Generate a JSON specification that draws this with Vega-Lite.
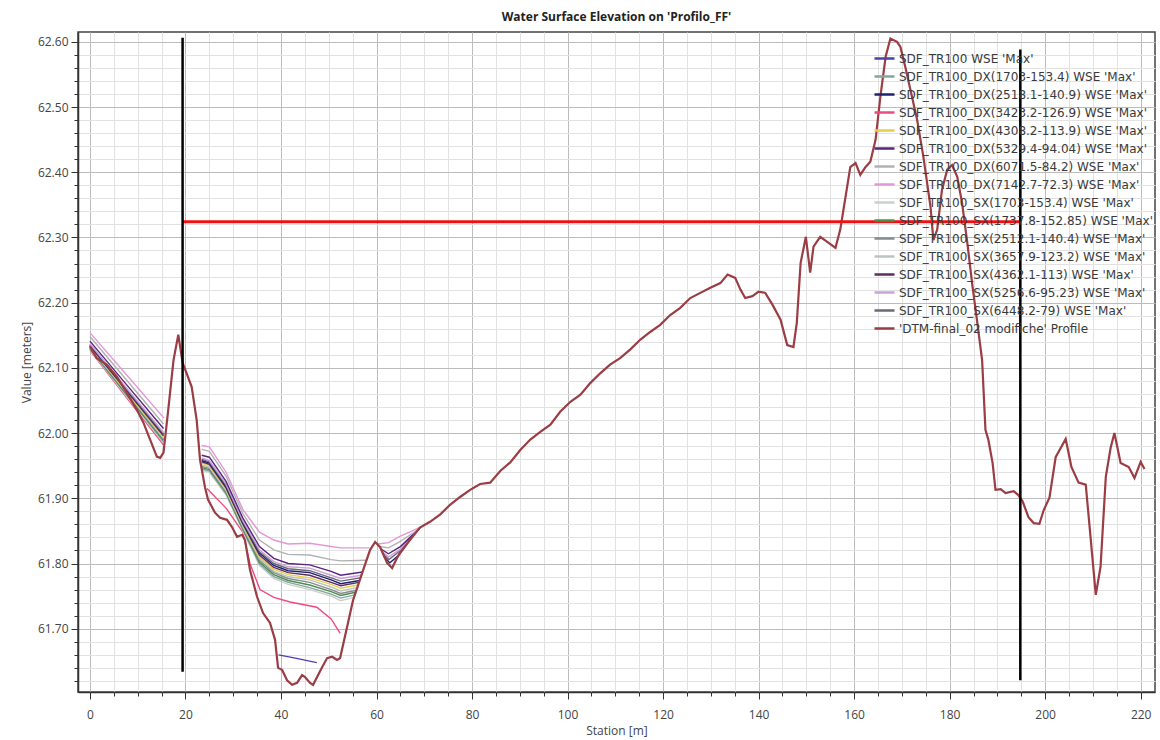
{
  "$schema": "https://vega.github.io/schema/vega-lite/v6.json",
  "width": 1077,
  "height": 660,
  "autosize": {"type": "none"},
  "padding": {"left": 78, "top": 32, "right": 5, "bottom": 48},
  "background": "white",
  "config": {
    "font": "Open Sans",
    "view": {"stroke": "#444", "strokeWidth": 1.5}
  },
  "title": {"text": "Water Surface Elevation on 'Profilo_FF'", "fontSize": 12, "fontWeight": "bold", "color": "#222", "offset": 8, "anchor": "middle"},
  "datasets": {
    "names": [
      {"k": "N0", "series": "SDF_TR100 WSE 'Max'"},
      {"k": "N1", "series": "SDF_TR100_DX(1703-153.4) WSE 'Max'"},
      {"k": "N2", "series": "SDF_TR100_DX(2518.1-140.9) WSE 'Max'"},
      {"k": "N3", "series": "SDF_TR100_DX(3423.2-126.9) WSE 'Max'"},
      {"k": "N4", "series": "SDF_TR100_DX(4308.2-113.9) WSE 'Max'"},
      {"k": "N5", "series": "SDF_TR100_DX(5329.4-94.04) WSE 'Max'"},
      {"k": "N6", "series": "SDF_TR100_DX(6071.5-84.2) WSE 'Max'"},
      {"k": "N7", "series": "SDF_TR100_DX(7142.7-72.3) WSE 'Max'"},
      {"k": "N8", "series": "SDF_TR100_SX(1703-153.4) WSE 'Max'"},
      {"k": "N9", "series": "SDF_TR100_SX(1737.8-152.85) WSE 'Max'"},
      {"k": "N10", "series": "SDF_TR100_SX(2512.1-140.4) WSE 'Max'"},
      {"k": "N11", "series": "SDF_TR100_SX(3657.9-123.2) WSE 'Max'"},
      {"k": "N12", "series": "SDF_TR100_SX(4362.1-113) WSE 'Max'"},
      {"k": "N13", "series": "SDF_TR100_SX(5256.6-95.23) WSE 'Max'"},
      {"k": "N14", "series": "SDF_TR100_SX(6448.2-79) WSE 'Max'"},
      {"k": "N15", "series": "'DTM-final_02 modifiche' Profile"}
    ],
    "wse": [
      {"k":"N3","g":"A","s":0,"v":62.127},{"k":"N3","g":"A","s":7.7,"v":62.054},{"k":"N3","g":"A","s":15.4,"v":61.982},
      {"k":"N8","g":"A","s":0,"v":62.128},{"k":"N8","g":"A","s":7.7,"v":62.056},{"k":"N8","g":"A","s":15.4,"v":61.985},
      {"k":"N1","g":"A","s":0,"v":62.129},{"k":"N1","g":"A","s":7.7,"v":62.058},{"k":"N1","g":"A","s":15.4,"v":61.987},
      {"k":"N9","g":"A","s":0,"v":62.130},{"k":"N9","g":"A","s":7.7,"v":62.059},{"k":"N9","g":"A","s":15.4,"v":61.989},
      {"k":"N10","g":"A","s":0,"v":62.131},{"k":"N10","g":"A","s":7.7,"v":62.061},{"k":"N10","g":"A","s":15.4,"v":61.991},
      {"k":"N11","g":"A","s":0,"v":62.132},{"k":"N11","g":"A","s":7.7,"v":62.062},{"k":"N11","g":"A","s":15.4,"v":61.992},
      {"k":"N4","g":"A","s":0,"v":62.133},{"k":"N4","g":"A","s":7.7,"v":62.063},{"k":"N4","g":"A","s":15.4,"v":61.994},
      {"k":"N12","g":"A","s":0,"v":62.134},{"k":"N12","g":"A","s":7.7,"v":62.065},{"k":"N12","g":"A","s":15.4,"v":61.996},
      {"k":"N2","g":"A","s":0,"v":62.135},{"k":"N2","g":"A","s":7.7,"v":62.066},{"k":"N2","g":"A","s":15.4,"v":61.998},
      {"k":"N14","g":"A","s":0,"v":62.136},{"k":"N14","g":"A","s":7.7,"v":62.067},{"k":"N14","g":"A","s":15.4,"v":61.999},
      {"k":"N13","g":"A","s":0,"v":62.137},{"k":"N13","g":"A","s":7.7,"v":62.069},{"k":"N13","g":"A","s":15.4,"v":62.001},
      {"k":"N5","g":"A","s":0,"v":62.141},{"k":"N5","g":"A","s":7.7,"v":62.074},{"k":"N5","g":"A","s":15.4,"v":62.007},
      {"k":"N6","g":"A","s":0,"v":62.148},{"k":"N6","g":"A","s":7.7,"v":62.081},{"k":"N6","g":"A","s":15.4,"v":62.014},
      {"k":"N7","g":"A","s":0,"v":62.154},{"k":"N7","g":"A","s":7.7,"v":62.089},{"k":"N7","g":"A","s":15.5,"v":62.023},

      {"k":"N0","g":"B","s":39.5,"v":61.660},{"k":"N0","g":"B","s":43.0,"v":61.655},{"k":"N0","g":"B","s":47.5,"v":61.648},

      {"k":"N3","g":"B","s":24.5,"v":61.915},{"k":"N3","g":"B","s":28.5,"v":61.885},{"k":"N3","g":"B","s":32.0,"v":61.848},{"k":"N3","g":"B","s":33.5,"v":61.800},{"k":"N3","g":"B","s":35.6,"v":61.760},{"k":"N3","g":"B","s":38.5,"v":61.748},{"k":"N3","g":"B","s":41.9,"v":61.741},{"k":"N3","g":"B","s":47.5,"v":61.733},{"k":"N3","g":"B","s":50.5,"v":61.715},{"k":"N3","g":"B","s":52.4,"v":61.693},

      {"k":"N8","g":"B","s":23.4,"v":61.943},{"k":"N8","g":"B","s":25.0,"v":61.940},{"k":"N8","g":"B","s":28.5,"v":61.905},{"k":"N8","g":"B","s":32.0,"v":61.850},{"k":"N8","g":"B","s":35.5,"v":61.797},{"k":"N8","g":"B","s":38.5,"v":61.777},{"k":"N8","g":"B","s":41.5,"v":61.768},{"k":"N8","g":"B","s":46.0,"v":61.760},{"k":"N8","g":"B","s":50.5,"v":61.750},{"k":"N8","g":"B","s":52.5,"v":61.743},{"k":"N8","g":"B","s":55.3,"v":61.748},
      {"k":"N1","g":"B","s":23.4,"v":61.945},{"k":"N1","g":"B","s":25.0,"v":61.942},{"k":"N1","g":"B","s":28.5,"v":61.907},{"k":"N1","g":"B","s":32.0,"v":61.852},{"k":"N1","g":"B","s":35.5,"v":61.799},{"k":"N1","g":"B","s":38.5,"v":61.780},{"k":"N1","g":"B","s":41.5,"v":61.771},{"k":"N1","g":"B","s":46.0,"v":61.763},{"k":"N1","g":"B","s":50.5,"v":61.753},{"k":"N1","g":"B","s":52.5,"v":61.747},{"k":"N1","g":"B","s":55.5,"v":61.752},
      {"k":"N9","g":"B","s":23.4,"v":61.947},{"k":"N9","g":"B","s":25.0,"v":61.944},{"k":"N9","g":"B","s":28.5,"v":61.909},{"k":"N9","g":"B","s":32.0,"v":61.853},{"k":"N9","g":"B","s":35.5,"v":61.802},{"k":"N9","g":"B","s":38.5,"v":61.783},{"k":"N9","g":"B","s":41.5,"v":61.774},{"k":"N9","g":"B","s":46.0,"v":61.767},{"k":"N9","g":"B","s":50.5,"v":61.757},{"k":"N9","g":"B","s":52.5,"v":61.751},{"k":"N9","g":"B","s":55.6,"v":61.756},
      {"k":"N10","g":"B","s":23.4,"v":61.949},{"k":"N10","g":"B","s":25.0,"v":61.946},{"k":"N10","g":"B","s":28.5,"v":61.911},{"k":"N10","g":"B","s":32.0,"v":61.855},{"k":"N10","g":"B","s":35.5,"v":61.805},{"k":"N10","g":"B","s":38.5,"v":61.786},{"k":"N10","g":"B","s":41.5,"v":61.777},{"k":"N10","g":"B","s":46.0,"v":61.771},{"k":"N10","g":"B","s":50.5,"v":61.760},{"k":"N10","g":"B","s":52.5,"v":61.754},{"k":"N10","g":"B","s":55.8,"v":61.759},
      {"k":"N11","g":"B","s":23.4,"v":61.951},{"k":"N11","g":"B","s":25.0,"v":61.948},{"k":"N11","g":"B","s":28.5,"v":61.912},{"k":"N11","g":"B","s":32.0,"v":61.857},{"k":"N11","g":"B","s":35.5,"v":61.808},{"k":"N11","g":"B","s":38.5,"v":61.788},{"k":"N11","g":"B","s":41.5,"v":61.780},{"k":"N11","g":"B","s":46.0,"v":61.775},{"k":"N11","g":"B","s":50.5,"v":61.764},{"k":"N11","g":"B","s":52.5,"v":61.758},{"k":"N11","g":"B","s":55.9,"v":61.763},
      {"k":"N4","g":"B","s":23.4,"v":61.954},{"k":"N4","g":"B","s":25.0,"v":61.950},{"k":"N4","g":"B","s":28.5,"v":61.914},{"k":"N4","g":"B","s":32.0,"v":61.859},{"k":"N4","g":"B","s":35.5,"v":61.810},{"k":"N4","g":"B","s":38.5,"v":61.791},{"k":"N4","g":"B","s":41.5,"v":61.783},{"k":"N4","g":"B","s":46.0,"v":61.778},{"k":"N4","g":"B","s":50.5,"v":61.768},{"k":"N4","g":"B","s":52.5,"v":61.762},{"k":"N4","g":"B","s":56.1,"v":61.767},
      {"k":"N12","g":"B","s":23.4,"v":61.956},{"k":"N12","g":"B","s":25.0,"v":61.952},{"k":"N12","g":"B","s":28.5,"v":61.916},{"k":"N12","g":"B","s":32.0,"v":61.861},{"k":"N12","g":"B","s":35.5,"v":61.813},{"k":"N12","g":"B","s":38.5,"v":61.794},{"k":"N12","g":"B","s":41.5,"v":61.786},{"k":"N12","g":"B","s":46.0,"v":61.782},{"k":"N12","g":"B","s":50.5,"v":61.771},{"k":"N12","g":"B","s":52.5,"v":61.766},{"k":"N12","g":"B","s":56.3,"v":61.771},
      {"k":"N2","g":"B","s":23.4,"v":61.958},{"k":"N2","g":"B","s":25.0,"v":61.954},{"k":"N2","g":"B","s":28.5,"v":61.918},{"k":"N2","g":"B","s":32.0,"v":61.862},{"k":"N2","g":"B","s":35.5,"v":61.816},{"k":"N2","g":"B","s":38.5,"v":61.797},{"k":"N2","g":"B","s":41.5,"v":61.789},{"k":"N2","g":"B","s":46.0,"v":61.786},{"k":"N2","g":"B","s":50.5,"v":61.775},{"k":"N2","g":"B","s":52.5,"v":61.769},{"k":"N2","g":"B","s":56.5,"v":61.774},
      {"k":"N14","g":"B","s":23.4,"v":61.960},{"k":"N14","g":"B","s":25.0,"v":61.956},{"k":"N14","g":"B","s":28.5,"v":61.920},{"k":"N14","g":"B","s":32.0,"v":61.864},{"k":"N14","g":"B","s":35.5,"v":61.818},{"k":"N14","g":"B","s":38.5,"v":61.800},{"k":"N14","g":"B","s":41.5,"v":61.792},{"k":"N14","g":"B","s":46.0,"v":61.789},{"k":"N14","g":"B","s":50.5,"v":61.778},{"k":"N14","g":"B","s":52.5,"v":61.773},{"k":"N14","g":"B","s":56.6,"v":61.778},
      {"k":"N13","g":"B","s":23.4,"v":61.962},{"k":"N13","g":"B","s":25.0,"v":61.958},{"k":"N13","g":"B","s":28.5,"v":61.922},{"k":"N13","g":"B","s":32.0,"v":61.866},{"k":"N13","g":"B","s":35.5,"v":61.821},{"k":"N13","g":"B","s":38.5,"v":61.803},{"k":"N13","g":"B","s":41.5,"v":61.795},{"k":"N13","g":"B","s":46.0,"v":61.793},{"k":"N13","g":"B","s":50.5,"v":61.782},{"k":"N13","g":"B","s":52.5,"v":61.777},{"k":"N13","g":"B","s":56.8,"v":61.782},
      {"k":"N5","g":"B","s":23.4,"v":61.966},{"k":"N5","g":"B","s":25.0,"v":61.963},{"k":"N5","g":"B","s":28.5,"v":61.926},{"k":"N5","g":"B","s":32.0,"v":61.870},{"k":"N5","g":"B","s":35.5,"v":61.826},{"k":"N5","g":"B","s":38.5,"v":61.808},{"k":"N5","g":"B","s":41.5,"v":61.800},{"k":"N5","g":"B","s":46.0,"v":61.798},{"k":"N5","g":"B","s":50.5,"v":61.788},{"k":"N5","g":"B","s":52.5,"v":61.782},{"k":"N5","g":"B","s":57.1,"v":61.787},
      {"k":"N6","g":"B","s":23.4,"v":61.975},{"k":"N6","g":"B","s":25.0,"v":61.972},{"k":"N6","g":"B","s":28.5,"v":61.934},{"k":"N6","g":"B","s":32.0,"v":61.877},{"k":"N6","g":"B","s":35.5,"v":61.836},{"k":"N6","g":"B","s":38.5,"v":61.821},{"k":"N6","g":"B","s":41.5,"v":61.814},{"k":"N6","g":"B","s":46.0,"v":61.813},{"k":"N6","g":"B","s":50.5,"v":61.806},{"k":"N6","g":"B","s":52.5,"v":61.804},{"k":"N6","g":"B","s":57.9,"v":61.805},
      {"k":"N7","g":"B","s":23.4,"v":61.981},{"k":"N7","g":"B","s":25.0,"v":61.979},{"k":"N7","g":"B","s":28.5,"v":61.940},{"k":"N7","g":"B","s":32.0,"v":61.883},{"k":"N7","g":"B","s":35.5,"v":61.848},{"k":"N7","g":"B","s":38.5,"v":61.836},{"k":"N7","g":"B","s":41.5,"v":61.830},{"k":"N7","g":"B","s":46.0,"v":61.831},{"k":"N7","g":"B","s":50.5,"v":61.826},{"k":"N7","g":"B","s":52.5,"v":61.824},{"k":"N7","g":"B","s":58.5,"v":61.824},

      {"k":"N2","g":"C","s":61.5,"v":61.811},{"k":"N2","g":"C","s":62.8,"v":61.801},{"k":"N2","g":"C","s":64.5,"v":61.812},{"k":"N2","g":"C","s":66.0,"v":61.828},
      {"k":"N14","g":"C","s":61.2,"v":61.816},{"k":"N14","g":"C","s":62.6,"v":61.806},{"k":"N14","g":"C","s":65.0,"v":61.820},{"k":"N14","g":"C","s":66.8,"v":61.836},
      {"k":"N13","g":"C","s":61.0,"v":61.820},{"k":"N13","g":"C","s":62.5,"v":61.810},{"k":"N13","g":"C","s":65.0,"v":61.822},{"k":"N13","g":"C","s":67.0,"v":61.839},{"k":"N13","g":"C","s":68.5,"v":61.850},
      {"k":"N5","g":"C","s":60.8,"v":61.823},{"k":"N5","g":"C","s":62.5,"v":61.815},{"k":"N5","g":"C","s":65.0,"v":61.826},{"k":"N5","g":"C","s":67.3,"v":61.842},{"k":"N5","g":"C","s":69.0,"v":61.853},
      {"k":"N6","g":"C","s":60.6,"v":61.826},{"k":"N6","g":"C","s":62.5,"v":61.824},{"k":"N6","g":"C","s":65.0,"v":61.834},{"k":"N6","g":"C","s":67.5,"v":61.846},{"k":"N6","g":"C","s":69.3,"v":61.855},
      {"k":"N7","g":"C","s":60.3,"v":61.830},{"k":"N7","g":"C","s":62.5,"v":61.832},{"k":"N7","g":"C","s":65.0,"v":61.842},{"k":"N7","g":"C","s":67.5,"v":61.850},{"k":"N7","g":"C","s":69.5,"v":61.857}
    ],
    "terrain": [
      {"k":"N15","s":0,"v":62.133},{"k":"N15","s":1.4,"v":62.115},{"k":"N15","s":3.5,"v":62.105},{"k":"N15","s":5.6,"v":62.087},{"k":"N15","s":7.7,"v":62.062},{"k":"N15","s":9.8,"v":62.036},{"k":"N15","s":11.2,"v":62.016},{"k":"N15","s":12.6,"v":61.990},{"k":"N15","s":14.0,"v":61.964},{"k":"N15","s":14.7,"v":61.962},{"k":"N15","s":15.4,"v":61.970},{"k":"N15","s":16.4,"v":62.036},{"k":"N15","s":17.5,"v":62.112},{"k":"N15","s":18.5,"v":62.151},{"k":"N15","s":19.4,"v":62.108},{"k":"N15","s":21.3,"v":62.071},{"k":"N15","s":22.35,"v":62.020},{"k":"N15","s":23.05,"v":61.959},{"k":"N15","s":24.09,"v":61.917},{"k":"N15","s":24.72,"v":61.898},{"k":"N15","s":26.19,"v":61.878},{"k":"N15","s":27.24,"v":61.870},{"k":"N15","s":28.7,"v":61.867},{"k":"N15","s":29.75,"v":61.856},{"k":"N15","s":30.8,"v":61.841},{"k":"N15","s":31.85,"v":61.844},{"k":"N15","s":32.47,"v":61.836},{"k":"N15","s":33.52,"v":61.790},{"k":"N15","s":34.99,"v":61.749},{"k":"N15","s":36.25,"v":61.724},{"k":"N15","s":37.71,"v":61.709},{"k":"N15","s":38.76,"v":61.683},{"k":"N15","s":39.39,"v":61.640},{"k":"N15","s":40.23,"v":61.637},{"k":"N15","s":41.27,"v":61.621},{"k":"N15","s":42.32,"v":61.614},{"k":"N15","s":43.37,"v":61.617},{"k":"N15","s":44.42,"v":61.629},{"k":"N15","s":45.04,"v":61.626},{"k":"N15","s":46.09,"v":61.617},{"k":"N15","s":46.72,"v":61.614},{"k":"N15","s":47.56,"v":61.626},{"k":"N15","s":48.61,"v":61.641},{"k":"N15","s":49.65,"v":61.655},{"k":"N15","s":50.7,"v":61.657},{"k":"N15","s":51.75,"v":61.652},{"k":"N15","s":52.38,"v":61.655},{"k":"N15","s":53.85,"v":61.703},{"k":"N15","s":55.1,"v":61.744},{"k":"N15","s":57.2,"v":61.790},{"k":"N15","s":58.66,"v":61.821},{"k":"N15","s":59.71,"v":61.833},{"k":"N15","s":60.76,"v":61.825},{"k":"N15","s":62.22,"v":61.801},{"k":"N15","s":63.27,"v":61.793},{"k":"N15","s":64.32,"v":61.809},{"k":"N15","s":64.95,"v":61.816},{"k":"N15","s":67.0,"v":61.836},{"k":"N15","s":69.1,"v":61.855},{"k":"N15","s":71.2,"v":61.864},{"k":"N15","s":73.3,"v":61.875},{"k":"N15","s":75.4,"v":61.890},{"k":"N15","s":77.5,"v":61.902},{"k":"N15","s":79.6,"v":61.913},{"k":"N15","s":81.7,"v":61.922},{"k":"N15","s":83.8,"v":61.924},{"k":"N15","s":85.9,"v":61.942},{"k":"N15","s":88.0,"v":61.955},{"k":"N15","s":90.1,"v":61.974},{"k":"N15","s":92.2,"v":61.990},{"k":"N15","s":94.3,"v":62.002},{"k":"N15","s":96.4,"v":62.013},{"k":"N15","s":98.5,"v":62.033},{"k":"N15","s":100.6,"v":62.048},{"k":"N15","s":102.7,"v":62.059},{"k":"N15","s":104.8,"v":62.077},{"k":"N15","s":106.9,"v":62.092},{"k":"N15","s":108.9,"v":62.105},{"k":"N15","s":111.0,"v":62.115},{"k":"N15","s":113.1,"v":62.128},{"k":"N15","s":115.2,"v":62.143},{"k":"N15","s":117.3,"v":62.155},{"k":"N15","s":119.4,"v":62.166},{"k":"N15","s":121.5,"v":62.181},{"k":"N15","s":123.6,"v":62.192},{"k":"N15","s":125.7,"v":62.207},{"k":"N15","s":127.8,"v":62.215},{"k":"N15","s":129.9,"v":62.223},{"k":"N15","s":132.0,"v":62.230},{"k":"N15","s":133.5,"v":62.243},{"k":"N15","s":135.1,"v":62.238},{"k":"N15","s":136.2,"v":62.220},{"k":"N15","s":137.2,"v":62.207},{"k":"N15","s":138.7,"v":62.210},{"k":"N15","s":140.0,"v":62.217},{"k":"N15","s":141.4,"v":62.215},{"k":"N15","s":142.9,"v":62.197},{"k":"N15","s":144.6,"v":62.174},{"k":"N15","s":146.0,"v":62.135},{"k":"N15","s":147.3,"v":62.132},{"k":"N15","s":148.0,"v":62.169},{"k":"N15","s":148.8,"v":62.261},{"k":"N15","s":149.9,"v":62.301},{"k":"N15","s":150.8,"v":62.246},{"k":"N15","s":151.5,"v":62.286},{"k":"N15","s":152.9,"v":62.301},{"k":"N15","s":154.6,"v":62.292},{"k":"N15","s":156.1,"v":62.284},{"k":"N15","s":157.1,"v":62.312},{"k":"N15","s":158.2,"v":62.362},{"k":"N15","s":159.2,"v":62.408},{"k":"N15","s":160.3,"v":62.414},{"k":"N15","s":161.3,"v":62.396},{"k":"N15","s":162.4,"v":62.408},{"k":"N15","s":163.4,"v":62.416},{"k":"N15","s":164.5,"v":62.450},{"k":"N15","s":165.5,"v":62.516},{"k":"N15","s":166.6,"v":62.577},{"k":"N15","s":167.6,"v":62.605},{"k":"N15","s":169.0,"v":62.600},{"k":"N15","s":169.7,"v":62.592},{"k":"N15","s":170.7,"v":62.562},{"k":"N15","s":171.8,"v":62.526},{"k":"N15","s":173.2,"v":62.480},{"k":"N15","s":174.5,"v":62.424},{"k":"N15","s":176.0,"v":62.347},{"k":"N15","s":176.6,"v":62.296},{"k":"N15","s":177.4,"v":62.312},{"k":"N15","s":178.4,"v":62.373},{"k":"N15","s":179.5,"v":62.404},{"k":"N15","s":180.5,"v":62.411},{"k":"N15","s":181.6,"v":62.393},{"k":"N15","s":182.6,"v":62.353},{"k":"N15","s":183.7,"v":62.292},{"k":"N15","s":184.7,"v":62.230},{"k":"N15","s":185.8,"v":62.169},{"k":"N15","s":186.8,"v":62.112},{"k":"N15","s":187.5,"v":62.005},{"k":"N15","s":188.1,"v":61.990},{"k":"N15","s":189.0,"v":61.954},{"k":"N15","s":189.6,"v":61.913},{"k":"N15","s":190.7,"v":61.914},{"k":"N15","s":191.7,"v":61.908},{"k":"N15","s":193.4,"v":61.911},{"k":"N15","s":194.4,"v":61.905},{"k":"N15","s":195.3,"v":61.895},{"k":"N15","s":196.5,"v":61.871},{"k":"N15","s":197.6,"v":61.862},{"k":"N15","s":198.8,"v":61.861},{"k":"N15","s":199.7,"v":61.882},{"k":"N15","s":200.9,"v":61.901},{"k":"N15","s":202.2,"v":61.963},{"k":"N15","s":204.3,"v":61.991},{"k":"N15","s":205.5,"v":61.948},{"k":"N15","s":207.0,"v":61.924},{"k":"N15","s":208.5,"v":61.921},{"k":"N15","s":209.5,"v":61.841},{"k":"N15","s":210.6,"v":61.752},{"k":"N15","s":211.6,"v":61.795},{"k":"N15","s":212.7,"v":61.933},{"k":"N15","s":213.7,"v":61.977},{"k":"N15","s":214.5,"v":62.000},{"k":"N15","s":215.8,"v":61.954},{"k":"N15","s":217.5,"v":61.948},{"k":"N15","s":218.7,"v":61.931},{"k":"N15","s":220.0,"v":61.956},{"k":"N15","s":220.8,"v":61.945}
    ],
    "vlines": [
      {"s": 19.4, "top": 62.606, "bot": 61.634},
      {"s": 194.8, "top": 62.588, "bot": 61.621}
    ],
    "hline": [
      {"s0": 19.4, "s1": 194.8, "v": 62.324}
    ]
  },
  "layer": [
    {
      "data": {"name": "wse"},
      "transform": [{"lookup": "k", "from": {"data": {"name": "names"}, "key": "k", "fields": ["series"]}}],
      "mark": {"type": "line", "strokeWidth": 1.4},
      "encoding": {
        "x": {"field": "s", "type": "quantitative", "scale": {"domain": [-2.5, 223], "nice": false, "zero": false},
          "axis": {"orient": "bottom", "values": [0,20,40,60,80,100,120,140,160,180,200,220], "grid": true, "gridColor": "#bcbcbc", "gridWidth": 1, "tickSize": 7, "tickColor": "#333", "domainColor": "#333", "domainWidth": 1.5, "labelFontSize": 12, "labelColor": "#444", "labelPadding": 10, "title": "Station [m]", "titleFontSize": 12, "titleFontWeight": "normal", "titleColor": "#444", "titlePadding": 5}},
        "y": {"field": "v", "type": "quantitative", "scale": {"domain": [61.603, 62.615], "nice": false, "zero": false},
          "axis": {"orient": "left", "values": [61.7,61.8,61.9,62.0,62.1,62.2,62.3,62.4,62.5,62.6], "format": ".2f", "grid": true, "gridColor": "#bcbcbc", "gridWidth": 1, "tickSize": 7, "tickColor": "#333", "domainColor": "#333", "domainWidth": 1.5, "labelFontSize": 12, "labelColor": "#444", "labelPadding": 3, "title": "Value [meters]", "titleFontSize": 12, "titleFontWeight": "normal", "titleColor": "#444", "titlePadding": 4}},
        "color": {"field": "series", "type": "nominal",
          "scale": {
            "domain": ["SDF_TR100 WSE 'Max'", "SDF_TR100_DX(1703-153.4) WSE 'Max'", "SDF_TR100_DX(2518.1-140.9) WSE 'Max'", "SDF_TR100_DX(3423.2-126.9) WSE 'Max'", "SDF_TR100_DX(4308.2-113.9) WSE 'Max'", "SDF_TR100_DX(5329.4-94.04) WSE 'Max'", "SDF_TR100_DX(6071.5-84.2) WSE 'Max'", "SDF_TR100_DX(7142.7-72.3) WSE 'Max'", "SDF_TR100_SX(1703-153.4) WSE 'Max'", "SDF_TR100_SX(1737.8-152.85) WSE 'Max'", "SDF_TR100_SX(2512.1-140.4) WSE 'Max'", "SDF_TR100_SX(3657.9-123.2) WSE 'Max'", "SDF_TR100_SX(4362.1-113) WSE 'Max'", "SDF_TR100_SX(5256.6-95.23) WSE 'Max'", "SDF_TR100_SX(6448.2-79) WSE 'Max'", "'DTM-final_02 modifiche' Profile"],
            "range": ["#4b40b0", "#86a59c", "#1e2070", "#ee4a82", "#e6cf45", "#5b2380", "#b0b2b0", "#e596d8", "#c9d1d0", "#4e8d50", "#858c92", "#bcc4c3", "#5f2c5f", "#cda2d8", "#676a78", "#9a3d44"]
          },
          "legend": {"title": null, "orient": "none", "legendX": 795, "legendY": 15, "symbolType": "stroke", "symbolSize": 400, "symbolStrokeWidth": 2.5, "labelFont": "DejaVu Sans", "labelFontSize": 12, "labelColor": "#3a3a3a", "labelLimit": 400, "rowPadding": 0, "labelOffset": 3}
        },
        "detail": {"field": "g", "type": "nominal"}
      }
    },
    {
      "data": {"name": "terrain"},
      "transform": [{"lookup": "k", "from": {"data": {"name": "names"}, "key": "k", "fields": ["series"]}}],
      "mark": {"type": "line", "strokeWidth": 2.2},
      "encoding": {
        "x": {"field": "s", "type": "quantitative", "axis": null},
        "y": {"field": "v", "type": "quantitative", "axis": null},
        "color": {"field": "series", "type": "nominal"}
      }
    },
    {
      "data": {"name": "hline"},
      "mark": {"type": "rule", "color": "#ee1111", "strokeWidth": 3},
      "encoding": {
        "x": {"field": "s0", "type": "quantitative", "axis": null},
        "x2": {"field": "s1"},
        "y": {"field": "v", "type": "quantitative", "axis": null}
      }
    },
    {
      "data": {"name": "vlines"},
      "mark": {"type": "rule", "color": "#000000", "strokeWidth": 2.5},
      "encoding": {
        "x": {"field": "s", "type": "quantitative",
          "axis": {"orient": "bottom", "values": [5,10,15,25,30,35,45,50,55,65,70,75,85,90,95,105,110,115,125,130,135,145,150,155,165,170,175,185,190,195,205,210,215], "grid": true, "gridColor": "#e2e2e2", "gridWidth": 1, "tickSize": 4, "tickColor": "#333", "labels": false, "domain": false, "title": null}},
        "y": {"field": "top", "type": "quantitative",
          "axis": {"orient": "left", "values": [61.62,61.64,61.66,61.68,61.72,61.74,61.76,61.78,61.82,61.84,61.86,61.88,61.92,61.94,61.96,61.98,62.02,62.04,62.06,62.08,62.12,62.14,62.16,62.18,62.22,62.24,62.26,62.28,62.32,62.34,62.36,62.38,62.42,62.44,62.46,62.48,62.52,62.54,62.56,62.58], "grid": true, "gridColor": "#e2e2e2", "gridWidth": 1, "tickSize": 4, "tickColor": "#333", "labels": false, "domain": false, "title": null}},
        "y2": {"field": "bot"}
      }
    }
  ],
  "resolve": {"axis": {"x": "independent", "y": "independent"}}
}
